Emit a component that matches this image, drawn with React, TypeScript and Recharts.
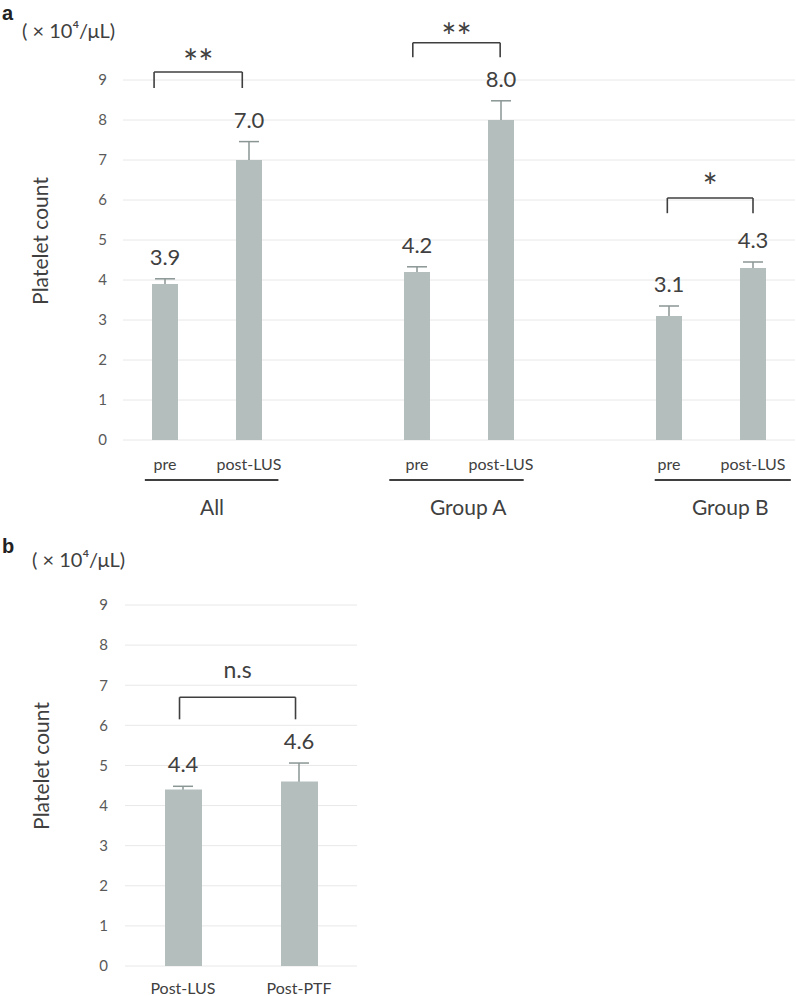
import React from 'react';
import {
  ComposedChart,
  Bar,
  Line,
  XAxis,
  YAxis,
  CartesianGrid,
  ErrorBar,
  LabelList,
  ReferenceLine,
  ReferenceDot,
} from 'recharts';

const FONT = 'Lato, "Open Sans", sans-serif';
const TEXT = '#404040';
const TICK = '#595959';
const BAR = '#b4bfbd';
const ERR = '#8a9694';
const LINE = '#3f3f3f';

// ---------- Panel a ----------
const positionsA = [0, 1, 3, 4, 6, 7];
const categoriesA = ['pre', 'post-LUS', 'pre', 'post-LUS', 'pre', 'post-LUS'];
const meansA = [3.9, 7.0, 4.2, 8.0, 3.1, 4.3];
const errorsA = [0.13, 0.46, 0.13, 0.48, 0.25, 0.15];

const groupNames = ['All', 'Group A', 'Group B'];
const groupLineFrom = [-0.24, 2.67, 5.83];
const groupLineTo = [1.35, 4.27, 7.45];
const groupLineY = -1.0;
const groupLabelX = [0.56, 3.61, 6.73];
const groupLabelY = -1.68;

const bracketFromA = [-0.13, 2.95, 5.98];
const bracketToA = [0.92, 3.99, 7.0];
const bracketTopA = [9.2, 9.93, 6.05];
const bracketLegA = [8.8, 9.57, 5.67];
const bracketMarkA = ['**', '**', '*'];
const markYA = [9.41, 10.07, 6.33];

// ---------- Panel b ----------
const positionsB = [0, 1];
const categoriesB = ['Post-LUS', 'Post-PTF'];
const meansB = [4.4, 4.6];
const errorsB = [0.08, 0.46];
const bracketFromB = [-0.03];
const bracketToB = [0.97];
const bracketTopB = [6.7];
const bracketLegB = [6.15];
const bracketMarkB = ['n.s'];
const markYB = [7.38];

const yTicks = [0, 1, 2, 3, 4, 5, 6, 7, 8, 9];

// small downward part of the error bar stays hidden behind the bar
const HIDDEN_LOW = 0.05;

const dataA = positionsA.map((x, i) => ({
  x,
  name: categoriesA[i],
  mean: meansA[i],
  err: [HIDDEN_LOW, errorsA[i]],
  top: meansA[i] + errorsA[i],
}));

const dataB = positionsB.map((x, i) => ({
  x,
  name: categoriesB[i],
  mean: meansB[i],
  err: [HIDDEN_LOW, errorsB[i]],
  top: meansB[i] + errorsB[i],
}));

function renderBrackets(
  from: number[],
  to: number[],
  top: number[],
  leg: number[],
  marks: string[],
  markY: number[],
  markSize: number[],
) {
  const out: React.ReactNode[] = [];
  from.forEach((f, i) => {
    const t = to[i];
    out.push(
      <ReferenceLine
        key={`bh${i}`}
        segment={[{ x: f, y: top[i] }, { x: t, y: top[i] }]}
        stroke={LINE}
        strokeWidth={1.6}
        ifOverflow="visible"
      />,
      <ReferenceLine
        key={`bl${i}`}
        segment={[{ x: f, y: top[i] }, { x: f, y: leg[i] }]}
        stroke={LINE}
        strokeWidth={1.6}
        ifOverflow="visible"
      />,
      <ReferenceLine
        key={`br${i}`}
        segment={[{ x: t, y: top[i] }, { x: t, y: leg[i] }]}
        stroke={LINE}
        strokeWidth={1.6}
        ifOverflow="visible"
      />,
      <ReferenceDot
        key={`bm${i}`}
        x={(f + t) / 2}
        y={markY[i]}
        r={1}
        fill="none"
        stroke="none"
        ifOverflow="visible"
        label={{
          value: marks[i],
          position: 'center',
          fill: TEXT,
          fontSize: markSize[i],
          fontFamily: FONT,
        }}
      />,
    );
  });
  return out;
}

const tickStyleY = { fill: TICK, fontSize: 15, fontFamily: FONT };
const tickStyleX = { fill: TEXT, fontSize: 16, fontFamily: FONT };

type LayerProps = {
  data: any[];
  width: number;
  height: number;
  top: number;
  right: number;
  left: number; // plot-area left edge
  bottom: number; // space below the plot area
  xDomain: [number, number];
};

// Top layer: only the bars, drawn with the same plot area and scales as the base layer,
// so the small lower stub of each error bar is hidden under the bar.
function BarLayer({ data, width, height, top, right, left, bottom, xDomain, barSize }: LayerProps & { barSize: number }) {
  return (
    <ComposedChart
      width={width}
      height={height}
      data={data}
      margin={{ top, right, left, bottom }}
    >
      <XAxis dataKey="x" type="number" domain={xDomain} allowDataOverflow hide />
      <YAxis type="number" domain={[0, 9]} ticks={yTicks} allowDataOverflow hide />
      <Bar dataKey="mean" fill={BAR} barSize={barSize} isAnimationActive={false} />
    </ComposedChart>
  );
}

export default function App() {
  return (
    <div
      style={{
        position: 'absolute',
        left: 0,
        top: 0,
        width: 797,
        height: 996,
        overflow: 'hidden',
        background: '#fff',
      }}
    >
      {/* ---------- Panel a base layer ---------- */}
      <div style={{ position: 'absolute', left: 0, top: 0 }}>
        <ComposedChart
          width={797}
          height={530}
          data={dataA}
          margin={{ top: 80, right: 2, left: 63, bottom: 60 }}
        >
          <CartesianGrid vertical={false} stroke="#e8e8e8" />
          <XAxis
            dataKey="x"
            type="number"
            domain={[-0.5, 7.5]}
            ticks={positionsA}
            interval={0}
            allowDataOverflow
            tickFormatter={(v: number) => categoriesA[positionsA.indexOf(v)] ?? ''}
            axisLine={false}
            tickLine={false}
            tickSize={0}
            tickMargin={19}
            height={30}
            tick={tickStyleX}
          />
          <YAxis
            type="number"
            domain={[0, 9]}
            ticks={yTicks}
            interval={0}
            allowDataOverflow
            axisLine={false}
            tickLine={false}
            tickSize={0}
            tickMargin={16}
            width={60}
            tick={tickStyleY}
          />
          <Line
            dataKey="mean"
            stroke="none"
            dot={false}
            activeDot={false}
            isAnimationActive={false}
          >
            <ErrorBar dataKey="err" width={10} stroke={ERR} strokeWidth={1.5} />
          </Line>
          <Line
            dataKey="top"
            stroke="none"
            dot={false}
            activeDot={false}
            isAnimationActive={false}
          >
            <LabelList
              dataKey="mean"
              position="top"
              offset={14}
              formatter={(v: number) => Number(v).toFixed(1)}
              fill={TEXT}
              fontSize={22}
              fontFamily={FONT}
            />
          </Line>
          {groupNames.map((g, i) => (
            <ReferenceLine
              key={`gl${i}`}
              segment={[
                { x: groupLineFrom[i], y: groupLineY },
                { x: groupLineTo[i], y: groupLineY },
              ]}
              stroke={LINE}
              strokeWidth={2}
              ifOverflow="visible"
            />
          ))}
          {groupNames.map((g, i) => (
            <ReferenceDot
              key={`gt${i}`}
              x={groupLabelX[i]}
              y={groupLabelY}
              r={1}
              fill="none"
              stroke="none"
              ifOverflow="visible"
              label={{ value: g, position: 'center', fill: TEXT, fontSize: 21, fontFamily: FONT }}
            />
          ))}
          {renderBrackets(
            bracketFromA,
            bracketToA,
            bracketTopA,
            bracketLegA,
            bracketMarkA,
            markYA,
            [36, 36, 36],
          )}
        </ComposedChart>
      </div>
      {/* ---------- Panel a bar layer ---------- */}
      <div style={{ position: 'absolute', left: 0, top: 0 }}>
        <BarLayer
          data={dataA}
          width={797}
          height={530}
          top={80}
          right={2}
          left={123}
          bottom={90}
          xDomain={[-0.5, 7.5]}
          barSize={26}
        />
      </div>

      {/* ---------- Panel b base layer ---------- */}
      <div style={{ position: 'absolute', left: 0, top: 530 }}>
        <ComposedChart
          width={380}
          height={466}
          data={dataB}
          margin={{ top: 75, right: 23, left: 65, bottom: 0 }}
        >
          <CartesianGrid vertical={false} stroke="#e8e8e8" />
          <XAxis
            dataKey="x"
            type="number"
            domain={[-0.5, 1.5]}
            ticks={positionsB}
            interval={0}
            allowDataOverflow
            tickFormatter={(v: number) => categoriesB[positionsB.indexOf(v)] ?? ''}
            axisLine={false}
            tickLine={false}
            tickSize={0}
            tickMargin={17}
            height={30}
            tick={tickStyleX}
          />
          <YAxis
            type="number"
            domain={[0, 9]}
            ticks={yTicks}
            interval={0}
            allowDataOverflow
            axisLine={false}
            tickLine={false}
            tickSize={0}
            tickMargin={17}
            width={60}
            tick={tickStyleY}
          />
          <Line
            dataKey="mean"
            stroke="none"
            dot={false}
            activeDot={false}
            isAnimationActive={false}
          >
            <ErrorBar dataKey="err" width={10} stroke={ERR} strokeWidth={1.5} />
          </Line>
          <Line
            dataKey="top"
            stroke="none"
            dot={false}
            activeDot={false}
            isAnimationActive={false}
          >
            <LabelList
              dataKey="mean"
              position="top"
              offset={14}
              formatter={(v: number) => Number(v).toFixed(1)}
              fill={TEXT}
              fontSize={22}
              fontFamily={FONT}
            />
          </Line>
          {renderBrackets(
            bracketFromB,
            bracketToB,
            bracketTopB,
            bracketLegB,
            bracketMarkB,
            markYB,
            [23],
          )}
        </ComposedChart>
      </div>
      {/* ---------- Panel b bar layer ---------- */}
      <div style={{ position: 'absolute', left: 0, top: 530 }}>
        <BarLayer
          data={dataB}
          width={380}
          height={466}
          top={75}
          right={23}
          left={125}
          bottom={30}
          xDomain={[-0.5, 1.5]}
          barSize={37}
        />
      </div>

      <svg
        width={797}
        height={996}
        style={{ position: 'absolute', left: 0, top: 0, pointerEvents: 'none' }}
      >
        <text x={2} y={20} fontFamily='"Liberation Sans", Arial, sans-serif' fontWeight="bold" fontSize={20} fill="#222">
          a
        </text>
        <text x={22} y={38} fontFamily={FONT} fontSize={20} fill={TEXT}>
          ( × 10⁴/μL)
        </text>
        <text
          x={48}
          y={241}
          transform="rotate(-90, 48, 241)"
          textAnchor="middle"
          fontFamily={FONT}
          fontSize={21}
          fill={TEXT}
        >
          Platelet count
        </text>
        <text x={2} y={553} fontFamily='"Liberation Sans", Arial, sans-serif' fontWeight="bold" fontSize={20} fill="#222">
          b
        </text>
        <text x={32} y={567} fontFamily={FONT} fontSize={20} fill={TEXT}>
          ( × 10⁴/μL)
        </text>
        <text
          x={49}
          y={766}
          transform="rotate(-90, 49, 766)"
          textAnchor="middle"
          fontFamily={FONT}
          fontSize={21}
          fill={TEXT}
        >
          Platelet count
        </text>
      </svg>
    </div>
  );
}
